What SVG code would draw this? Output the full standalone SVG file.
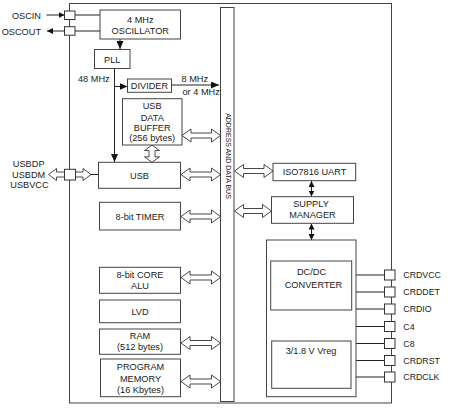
<svg xmlns="http://www.w3.org/2000/svg" width="450" height="412" viewBox="0 0 450 412">
<style>
text{font-family:"Liberation Sans",Arial,sans-serif;font-size:9.2px;fill:#222}
.c{text-anchor:middle}
.box{fill:#fff;stroke:#444;stroke-width:1}
.pin{fill:#fff;stroke:#333;stroke-width:1}
.ln{fill:none;stroke:#222;stroke-width:1}
.dar{fill:#fff;stroke:#333;stroke-width:0.9;stroke-linejoin:miter}
.pinl{font-size:8.8px}
</style>
<defs>
<marker id="ah" viewBox="0 0 8 7" refX="8" refY="3.5" markerWidth="8" markerHeight="7" markerUnits="userSpaceOnUse" orient="auto-start-reverse">
<path d="M0,0 L8,3.5 L0,7 z" fill="#111"/>
</marker>
<marker id="ahs" viewBox="0 0 6 6" refX="6" refY="3" markerWidth="6" markerHeight="6" markerUnits="userSpaceOnUse" orient="auto-start-reverse">
<path d="M0,0 L6,3 L0,6 z" fill="#111"/>
</marker>
</defs>

<g id="chip"><rect class="box" x="69.5" y="3.5" width="322" height="399.5"/></g>

<g id="connectors">
<line class="ln" x1="46.5" y1="15" x2="64.5" y2="15" marker-end="url(#ahs)"/>
<line class="ln" x1="64.5" y1="31" x2="47" y2="31" marker-end="url(#ahs)"/>
<line class="ln" x1="75" y1="15" x2="100" y2="15"/>
<line class="ln" x1="75" y1="31" x2="100" y2="31"/>
<line class="ln" x1="120" y1="39" x2="120" y2="49" marker-end="url(#ah)"/>
<line class="ln" x1="114.5" y1="68.5" x2="114.5" y2="162" marker-end="url(#ah)"/>
<line class="ln" x1="114.5" y1="86.5" x2="127.5" y2="86.5" marker-end="url(#ah)"/>
<line class="ln" x1="171.5" y1="85" x2="219" y2="85" marker-end="url(#ah)"/>
<line class="ln" x1="91" y1="174.5" x2="98.5" y2="174.5"/>
<polygon class="dar" points="48.5,174.5 56.5,168.5 56.5,172 64.5,172 64.5,177 56.5,177 56.5,180.5"/>
<polygon class="dar" points="75.5,172 83,172 83,168.5 91,174.5 83,180.5 83,177 75.5,177"/>
<polygon class="dar" points="182,135.5 191,129 191,133 211.5,133 211.5,129 220.5,135.5 211.5,142 211.5,138 191,138 191,142"/>
<polygon class="dar" points="152,145 159.5,150.5 155,150.5 155,156.8 159.5,156.8 152,162.3 144.5,156.8 149,156.8 149,150.5 144.5,150.5"/>
<polygon class="dar" points="181,174.5 190,168 190,172 211.5,172 211.5,168 220.5,174.5 211.5,181 211.5,177 190,177 190,181"/>
<polygon class="dar" points="181,216.5 190,210 190,214 211.5,214 211.5,210 220.5,216.5 211.5,223 211.5,219 190,219 190,223"/>
<polygon class="dar" points="181,277.5 190,271 190,275 211.5,275 211.5,271 220.5,277.5 211.5,284 211.5,280 190,280 190,284"/>
<polygon class="dar" points="181,343 190,336.5 190,340.5 211.5,340.5 211.5,336.5 220.5,343 211.5,349.5 211.5,345.5 190,345.5 190,349.5"/>
<polygon class="dar" points="181,381.5 190,375 190,379 211.5,379 211.5,375 220.5,381.5 211.5,388 211.5,384 190,384 190,388"/>
<polygon class="dar" points="234.5,171 243.5,164.5 243.5,168.5 264,168.5 264,164.5 273,171 264,177.5 264,173.5 243.5,173.5 243.5,177.5"/>
<polygon class="dar" points="234.5,211 243.5,204.5 243.5,208.5 262.5,208.5 262.5,204.5 271.5,211 262.5,217.5 262.5,213.5 243.5,213.5 243.5,217.5"/>
<line class="ln" x1="311.5" y1="181" x2="311.5" y2="196.5" stroke-width="1.6" marker-start="url(#ahs)" marker-end="url(#ahs)"/>
<line class="ln" x1="311.5" y1="223.5" x2="311.5" y2="240" stroke-width="1.6" marker-start="url(#ahs)" marker-end="url(#ahs)"/>
<line class="ln" x1="356" y1="275" x2="384.5" y2="275"/>
<line class="ln" x1="356" y1="292" x2="384.5" y2="292"/>
<line class="ln" x1="356" y1="309" x2="384.5" y2="309"/>
<line class="ln" x1="356" y1="326.5" x2="384.5" y2="326.5"/>
<line class="ln" x1="356" y1="343.5" x2="384.5" y2="343.5"/>
<line class="ln" x1="356" y1="360.5" x2="384.5" y2="360.5"/>
<line class="ln" x1="356" y1="377" x2="384.5" y2="377"/>
</g>

<g id="bus"><rect class="box" x="220.5" y="7.5" width="13.5" height="394"/>
<text transform="translate(225.5,156) rotate(90)" class="c" style="font-size:7px">ADDRESS AND DATA BUS</text></g>

<g id="oscin"><text x="41" y="19" text-anchor="end">OSCIN</text><rect class="pin" x="64.5" y="11" width="10.5" height="8.5"/></g>
<g id="oscout"><text x="41" y="35" text-anchor="end">OSCOUT</text><rect class="pin" x="64.5" y="26.7" width="10.5" height="8.5"/></g>
<g id="oscillator"><rect class="box" x="100" y="10" width="80.5" height="29"/>
<text x="140.3" y="22.5" class="c">4 MHz</text><text x="140.3" y="34" class="c">OSCILLATOR</text></g>
<g id="pll"><rect class="box" x="94.5" y="49.5" width="35.5" height="19"/><text x="112.2" y="62.5" class="c">PLL</text></g>
<g id="lbl48"><text x="78" y="82">48 MHz</text></g>
<g id="divider"><rect class="box" x="127.5" y="79" width="44" height="13.3"/><text x="149.5" y="89.3" class="c">DIVIDER</text></g>
<g id="lbl8"><text x="181.5" y="81.5">8 MHz</text><text x="182.5" y="94.5">or 4 MHz</text></g>
<g id="usbbuf"><rect class="box" x="122.5" y="98.7" width="59.5" height="46.3"/>
<text x="152.2" y="109.3" class="c">USB</text><text x="152.2" y="120.5" class="c">DATA</text><text x="152.2" y="131.2" class="c">BUFFER</text><text x="152.2" y="140.7" class="c">(256 bytes)</text></g>
<g id="usbpins"><text x="28.7" y="166.7" class="c">USBDP</text><text x="28.7" y="177.7" class="c">USBDM</text><text x="29.5" y="188.3" class="c">USBVCC</text>
<rect class="pin" x="64.5" y="169.3" width="11" height="10.7"/></g>
<g id="usb"><rect class="box" x="98.5" y="162.3" width="82" height="26"/><text x="139.5" y="179" class="c">USB</text></g>
<g id="timer"><rect class="box" x="99.5" y="202.3" width="81" height="27.7"/><text x="140" y="219.5" class="c">8-bit TIMER</text></g>
<g id="alu"><rect class="box" x="99.5" y="267.3" width="81" height="26"/><text x="140" y="278.3" class="c">8-bit CORE</text><text x="140" y="288.5" class="c">ALU</text></g>
<g id="lvd"><rect class="box" x="99.5" y="300" width="81" height="22.7"/><text x="140" y="314.5" class="c">LVD</text></g>
<g id="ram"><rect class="box" x="99.5" y="329" width="81" height="25.3"/><text x="140" y="338.5" class="c">RAM</text><text x="140" y="349.5" class="c">(512 bytes)</text></g>
<g id="progmem"><rect class="box" x="100.5" y="359" width="80" height="37.7"/><text x="140.5" y="370.2" class="c">PROGRAM</text><text x="140.5" y="381.7" class="c">MEMORY</text><text x="140.5" y="393" class="c">(16 Kbytes)</text></g>

<g id="uart"><rect class="box" x="273" y="163.3" width="82.7" height="17.4"/><text x="314.5" y="175.3" class="c">ISO7816 UART</text></g>
<g id="supply"><rect class="box" x="271.5" y="196.7" width="82" height="26.6"/><text x="311" y="206.8" class="c">SUPPLY</text><text x="312.5" y="217.5" class="c">MANAGER</text></g>
<g id="cardif"><rect class="box" x="266.5" y="240" width="89.5" height="156.7"/></g>
<g id="dcdc"><rect class="box" x="270.7" y="261" width="81" height="49"/><text x="311.5" y="275" class="c">DC/DC</text><text x="313.5" y="288.3" class="c">CONVERTER</text></g>
<g id="vreg"><rect class="box" x="271.7" y="341" width="79.3" height="47.3"/><text x="311" y="354" class="c">3/1.8 V Vreg</text></g>

<g id="crdvcc"><rect class="pin" x="384.5" y="270" width="10.5" height="10"/><text x="403.3" y="278.3" class="pinl">CRDVCC</text></g>
<g id="crddet"><rect class="pin" x="384.5" y="287" width="10.5" height="10"/><text x="403.3" y="295.3" class="pinl">CRDDET</text></g>
<g id="crdio"><rect class="pin" x="384.5" y="304" width="10.5" height="10"/><text x="403.3" y="312.3" class="pinl">CRDIO</text></g>
<g id="c4"><rect class="pin" x="384.5" y="321.5" width="10.5" height="10"/><text x="403.3" y="329.8" class="pinl">C4</text></g>
<g id="c8"><rect class="pin" x="384.5" y="338.5" width="10.5" height="10"/><text x="403.3" y="346.8" class="pinl">C8</text></g>
<g id="crdrst"><rect class="pin" x="384.5" y="355.5" width="10.5" height="10"/><text x="403.3" y="363.8" class="pinl">CRDRST</text></g>
<g id="crdclk"><rect class="pin" x="384.5" y="372" width="10.5" height="10"/><text x="403.3" y="380.3" class="pinl">CRDCLK</text></g>
</svg>
